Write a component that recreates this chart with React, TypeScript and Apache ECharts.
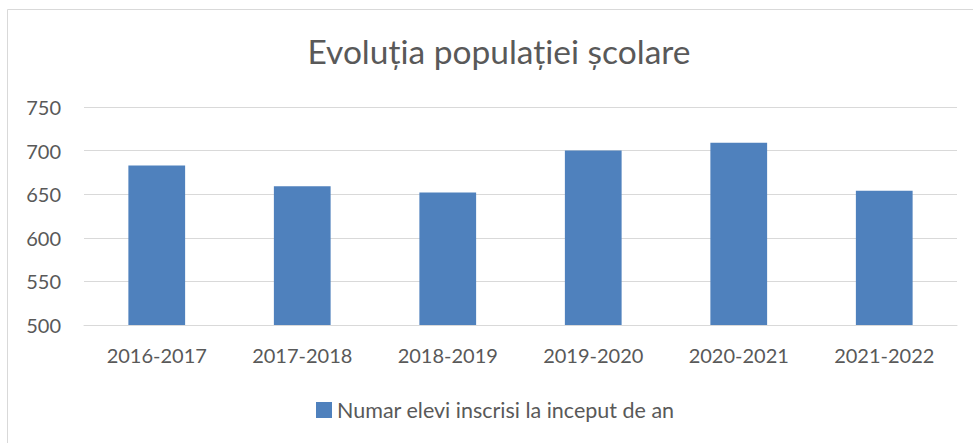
import React, { useEffect, useRef } from "react";
import * as echarts from "echarts";

const categories = ["2016-2017", "2017-2018", "2018-2019", "2019-2020", "2020-2021", "2021-2022"];
const values = [683, 659, 652, 700, 709, 654];
const seriesName = "Numar elevi inscrisi la inceput de an";
const titleText = "Evoluția populației școlare";

const FONT = "Lato";
const TEXT = "#595959";
const GRID = "#d9d9d9";

export default function App() {
  const ref = useRef<HTMLDivElement>(null);
  useEffect(() => {
    document.body.style.margin = "0";
    const chart = echarts.init(ref.current!, null, { renderer: "svg" });
    chart.setOption({
      animation: false,
      backgroundColor: "#ffffff",
      textStyle: { fontFamily: FONT },
      title: {
        text: titleText,
        left: 494,
        textAlign: "center",
        top: 29,
        textStyle: { fontFamily: FONT, fontSize: 33.5, fontWeight: "normal", color: TEXT },
      },
      graphic: [
        {
          type: "rect",
          shape: { x: 7.5, y: 9.5, width: 1000, height: 1000 },
          style: { fill: "none", stroke: GRID, lineWidth: 1 },
          silent: true,
        },
      ],
      legend: {
        data: [seriesName],
        left: 311,
        top: 394,
        icon: "rect",
        itemWidth: 16,
        itemHeight: 16,
        itemGap: 10,
        textStyle: { fontFamily: FONT, fontSize: 21.5, color: TEXT },
      },
      grid: { left: 84, right: 16, top: 107, bottom: 118, containLabel: false },
      xAxis: {
        type: "category",
        data: categories,
        axisLine: { show: true, lineStyle: { color: GRID, width: 1 } },
        axisTick: { show: false },
        axisLabel: { color: TEXT, fontSize: 20, fontFamily: FONT, margin: 20 },
      },
      yAxis: {
        type: "value",
        min: 500,
        max: 750,
        interval: 50,
        axisLine: { show: false },
        axisTick: { show: false },
        splitLine: { lineStyle: { color: GRID, width: 1 } },
        axisLabel: { color: TEXT, fontSize: 20, fontFamily: FONT, margin: 23 },
      },
      series: [
        {
          name: seriesName,
          type: "bar",
          data: values,
          barCategoryGap: "61%",
          itemStyle: { color: "#4f81bd" },
        },
      ],
    });
    return () => chart.dispose();
  }, []);
  return <div ref={ref} style={{ width: 973, height: 443 }} />;
}
